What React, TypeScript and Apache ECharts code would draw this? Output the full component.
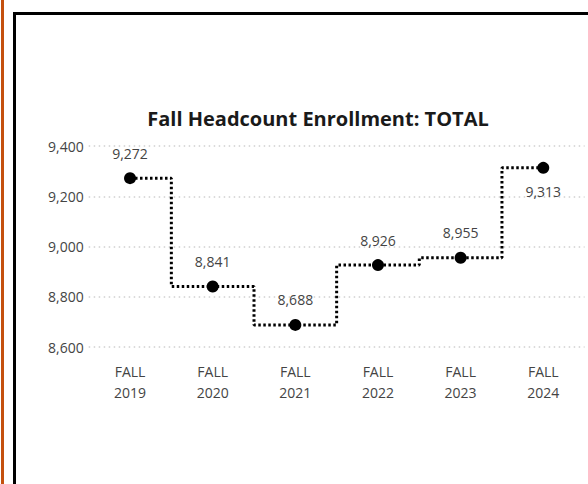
import React, { useEffect, useRef } from "react";
import * as echarts from "echarts";

const categories = ["FALL\n2019", "FALL\n2020", "FALL\n2021", "FALL\n2022", "FALL\n2023", "FALL\n2024"];
const enrollment = [9272, 8841, 8688, 8926, 8955, 9313];
const labelBelow = [false, false, false, false, false, true];
const yTicks = { min: 8600, max: 9400, interval: 200 };
const title = "Fall Headcount Enrollment: TOTAL";

export default function App() {
  const ref = useRef<HTMLDivElement>(null);
  useEffect(() => {
    if (!ref.current) return;
    const chart = echarts.init(ref.current, null, { renderer: "svg" });
    const fmt = (v: number) => v.toLocaleString("en-US");
    chart.setOption({
      animation: false,
      backgroundColor: "#ffffff",
      textStyle: { fontFamily: "Open Sans" },
      title: {
        text: title,
        left: 313,
        textAlign: "center",
        top: 103,
        textStyle: { fontFamily: "Open Sans", fontWeight: "bold", fontSize: 20, color: "#1a1a1a" },
      },
      graphic: [
        { type: "rect", shape: { x: 1, y: 0, width: 3, height: 484 }, style: { fill: "#C4500E" } },
        {
          type: "rect",
          shape: { x: 14.5, y: 13.5, width: 600, height: 500 },
          style: { fill: "none", stroke: "#000", lineWidth: 3 },
        },
      ],
      grid: { left: 88.7, right: 3.4, top: 146, height: 201, containLabel: false },
      xAxis: {
        type: "category",
        data: categories,
        boundaryGap: true,
        axisLine: { show: false },
        axisTick: { show: false },
        axisLabel: { color: "#444", fontSize: 14, lineHeight: 21, margin: 14, fontFamily: "Open Sans" },
      },
      yAxis: {
        type: "value",
        min: yTicks.min,
        max: yTicks.max,
        interval: yTicks.interval,
        axisLine: { show: false },
        axisTick: { show: false },
        axisLabel: { color: "#444", fontSize: 14, margin: 5, formatter: (v: number) => fmt(v), fontFamily: "Open Sans" },
        splitLine: { lineStyle: { color: "#d0d0d0", type: [1.5, 3.5], width: 1.5 } },
      },
      series: [
        {
          type: "line",
          step: "middle",
          data: enrollment.map((v, i) => ({
            value: v,
            label: { position: labelBelow[i] ? "bottom" : "top", distance: labelBelow[i] ? 11 : 12 },
          })),
          symbol: "circle",
          symbolSize: 12,
          itemStyle: { color: "#000" },
          lineStyle: { color: "#000", width: 3, type: [2.5, 2.5] },
          label: {
            show: true,
            color: "#444",
            fontSize: 14,
            fontFamily: "Open Sans",
            formatter: (p: any) => fmt(p.value),
          },
        },
      ],
    });
    return () => chart.dispose();
  }, []);
  return <div ref={ref} style={{ position: "fixed", left: 0, top: 0, width: 588, height: 484 }} />;
}
